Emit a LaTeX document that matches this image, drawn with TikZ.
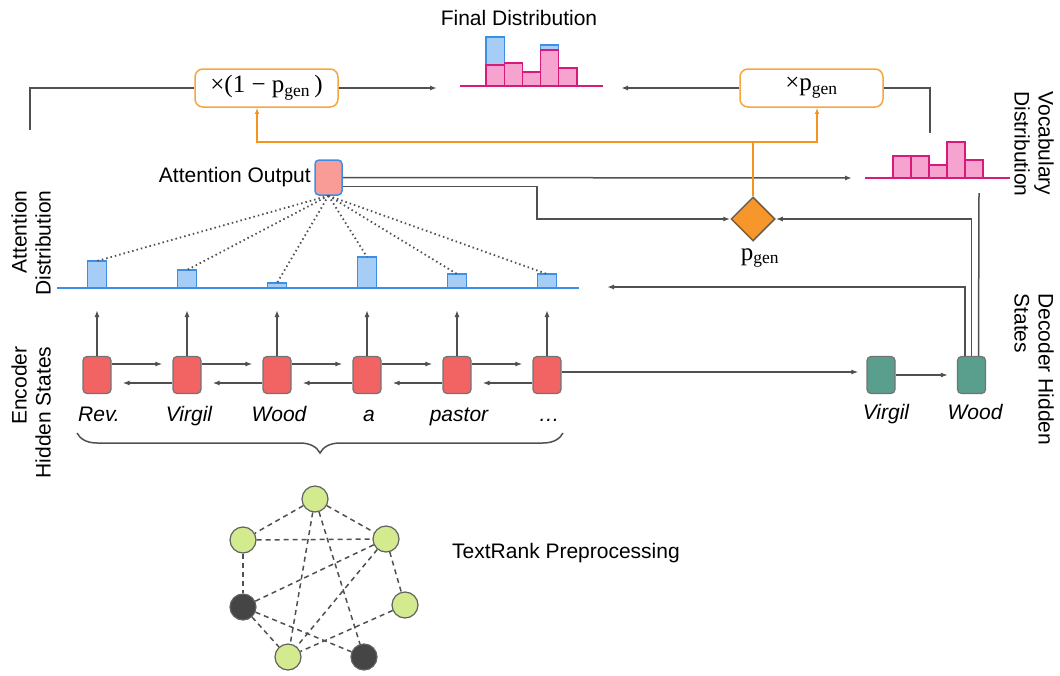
\documentclass[tikz,border=0pt]{standalone}
\usepackage{fontspec}
\setmainfont{Liberation Sans}
\newfontfamily\pfont{Liberation Serif}
\usetikzlibrary{arrows.meta,shapes.geometric,decorations.pathreplacing,positioning}

\definecolor{encred}{HTML}{F26363}
\definecolor{decteal}{HTML}{5A9E8E}
\definecolor{attpink}{HTML}{F99B97}
\definecolor{attblue}{HTML}{3D8FE6}
\definecolor{barblue}{HTML}{A6CDF6}
\definecolor{vocpink}{HTML}{F7A3CF}
\definecolor{vocmag}{HTML}{D81B7A}
\definecolor{pgenorange}{HTML}{F7962A}
\definecolor{lineorange}{HTML}{F7941D}
\definecolor{linegray}{HTML}{505050}
\definecolor{trgreen}{HTML}{D3EA8E}
\definecolor{trdark}{HTML}{454545}

\begin{document}
\begin{tikzpicture}[x=1pt, y=-1pt,
  every node/.style={font=\fontsize{21}{24}\selectfont},
  words/.style={font=\fontsize{21}{24}\selectfont\itshape, anchor=base},
  mathlbl/.style={font=\pfont\fontsize{25}{28}\selectfont},
  gline/.style={draw=linegray, line width=1.5pt},
  arr/.style={gline, -{Latex[length=7pt,width=5pt]}},
  oline/.style={draw=lineorange, line width=1.5pt},
  oarr/.style={oline, -{Latex[length=6pt,width=4.5pt]}},
  attdots/.style={draw=linegray, line width=1.8pt, dash pattern=on 1.5pt off 3pt},
  trdash/.style={draw=linegray, line width=1.5pt, dash pattern=on 5pt off 4pt},
  hstate/.style={draw=linegray!80, line width=1.2pt, rounded corners=4pt,
                 minimum width=28pt, minimum height=37pt, inner sep=0pt},
  mulbox/.style={draw=lineorange!85, line width=1.5pt, rounded corners=8pt,
                 minimum width=143pt, minimum height=38pt, mathlbl},
  trnode/.style={circle, draw=linegray!90, line width=1.2pt, minimum size=26pt, inner sep=0pt}
]
\useasboundingbox (0,0) rectangle (1060,675);

% --- attention / vocabulary values ---
\def\att{{27,18,5,31,14,14}}
\def\voc{{22,22,13,36,18}}
\def\fin{{21,23,14,36,18}}

% Encoder hidden states and words
\foreach \i/\w in {0/Rev.,1/Virgil,2/Wood,3/a,4/pastor,5/\ldots} {
    \node[hstate, fill=encred] (e\i) at (97+90*\i, 375) {};
    \node[words] (w\i) at (99+90*\i, 421) {\w};
    \coordinate (t\i) at (97+90*\i, 310);
    \draw[arr] (e\i.north) -- (t\i);
}
\foreach \i [evaluate=\i as \j using int(\i+1)] in {0,...,4} {
    \draw[arr, shorten >=10pt] ([yshift=11pt]e\i.east) -- ([yshift=11pt]e\j.west);
    \draw[arr, shorten >=11pt] ([yshift=-8pt]e\j.west) -- ([yshift=-8pt]e\i.east);
}
\draw[gline, decorate, decoration={brace, mirror, amplitude=20pt}] (77,433) -- (563,433);

% Decoder hidden states
\node[hstate, fill=decteal] (d1) at (881,375) {};
\node[hstate, fill=decteal] (d2) at (971.5,375) {};
\node[words] (dw1) at (886,419) {Virgil};
\node[words] (dw2) at (975,419) {Wood};
\draw[arr, shorten >=8pt] ([yshift=3pt]e5.east) -- ([yshift=3pt]d1.west);
\draw[arr, shorten >=9pt] (d1.east) -- (d2.west);

% Attention distribution
\foreach \i in {0,...,5} {
    \pgfmathsetmacro{\h}{\att[\i]}
    \draw[attblue, fill=barblue, line width=1.5pt] (87.5+90*\i, 288) rectangle ++(19, -\h);
    \coordinate (a\i) at (97+90*\i, 288-\h);
}
\draw[attblue, line width=1.5pt] (57,288) -- (579,288);

% Attention output
\node[draw=attblue, fill=attpink, line width=1.5pt, rounded corners=4pt,
      minimum width=27pt, minimum height=35pt, inner sep=0pt] (attout) at (328.5,177.5) {};
\node[left=0pt of attout] (attlbl) {Attention Output};
\foreach \i in {0,...,5}
    \draw[attdots] (attout.south) -- (a\i);

% Vocabulary and final distributions
\draw[attblue, fill=barblue, line width=1.3pt] (486,65) rectangle ++(18.2,-28);
\draw[attblue, fill=barblue, line width=1.3pt] (540.6,50) rectangle ++(18.2,-5);
\foreach \i in {0,...,4} {
    \pgfmathsetmacro{\h}{\voc[\i]}
    \pgfmathsetmacro{\hf}{\fin[\i]}
    \draw[vocmag, fill=vocpink, line width=1.3pt] (893+18*\i, 178) rectangle ++(18, -\h);
    \draw[vocmag, fill=vocpink, line width=1.3pt] (486+18.2*\i, 86) rectangle ++(18.2, -\hf);
}
\draw[vocmag, line width=1.5pt] (865,178) -- (1010,178);
\draw[vocmag, line width=1.5pt] (460,86) -- (603,86);
\node (finlbl) at (519,18) {Final Distribution};

% p_gen and the two weights
\node[diamond, draw=linegray!80!pgenorange, fill=pgenorange, line width=1.5pt,
      minimum width=44pt, minimum height=44pt, inner sep=0pt] (pgen) at (753,219) {};
\node[mathlbl] (pgenlbl) at (760,258) {p\textsubscript{gen}};
\node[mulbox] (mulA) at (266.5,88) {×(1 − p\textsubscript{gen}\,)};
\node[mulbox] (mulB) at (811.5,88) {×p\textsubscript{gen}};

% Connectors
\coordinate (encup) at (30,130);
\coordinate (finL) at (437,88);
\coordinate (finR) at (621,88);
\coordinate (vocup) at (930,133);
\coordinate (vocin) at (852,178);
\coordinate (bend) at (537,219);
\coordinate (attin) at (607,287);
\coordinate (vocdn) at (979,193);
\coordinate (obar) at (753,142);
\draw[gline] (encup) |- (mulA.west);
\draw[arr] (mulA.east) -- (finL);
\draw[arr] (mulB.west) -- (finR);
\draw[gline] (mulB.east) -| (vocup);
\draw[arr] (attout.east) -- (vocin);
\draw[arr] ([yshift=-9pt]attout.east) -| (bend) -- (pgen.west);
\draw[arr] (d2.north) |- (pgen.east);
\draw[arr] ([xshift=-6.5pt]d2.north) |- (attin);
\draw[gline] ([xshift=7pt]d2.north) -- (vocdn);
\draw[oline] (pgen.north) -- (obar);
\draw[oarr] (obar) -| ([xshift=-9.5pt]mulA.south);
\draw[oarr] (obar) -| ([xshift=5.5pt]mulB.south);

% Side labels
\node[rotate=90, anchor=east, align=right] (attdist) at (31,187) {Attention\\Distribution};
\node[rotate=90, anchor=east, align=right] (enclbl) at (31,343) {Encoder\\Hidden States};
\node[rotate=-90, anchor=west, align=left] (voclbl) at (1034,88) {Vocabulary\\Distribution};
\node[rotate=-90, anchor=west, align=left] (declbl) at (1034,290) {Decoder Hidden\\States};

% TextRank graph
\foreach \n/\x/\y/\c in {t1/315/499/trgreen, t2/243/540/trgreen, t3/386/539/trgreen,
    t4/243/607/trdark, t5/405/605/trgreen, t6/288/657/trgreen, t7/364/657/trdark}
    \node[trnode, fill=\c] (\n) at (\x,\y) {};
\foreach \a/\b in {t1/t2, t1/t3, t2/t3, t2/t4, t3/t5, t3/t4, t3/t6, t1/t6, t1/t7, t4/t7, t4/t6, t5/t6}
    \draw[trdash] (\a) -- (\b);
\node (trlbl) at (566,553) {TextRank Preprocessing};

\end{tikzpicture}
\end{document}
